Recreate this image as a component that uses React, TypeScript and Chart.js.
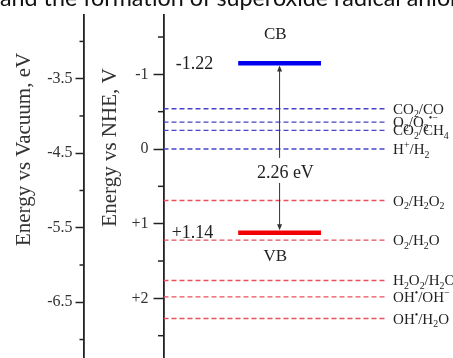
import React, { useEffect, useRef } from 'react';
import { Chart, registerables } from 'chart.js';

Chart.register(...registerables);

// ---- data ----
const coupleLabels = ['CO_2/CO', 'O_2/O_2^{•−}', 'CO_2/CH_4', 'H^{+}/H_2', 'O_2/H_2O_2', 'O_2/H_2O', 'H_2O_2/H_2O', 'OH^{•}/OH^{−}', 'OH^{•}/H_2O'];
const couplePotentials = [-0.54, -0.36, -0.25, 0, 0.69, 1.22, 1.76, 1.98, 2.27];
const coupleColors = ['#4646cc', '#4646cc', '#4646cc', '#4646cc', '#e8505c', '#e8505c', '#e8505c', '#e8505c', '#e8505c'];

const bandNames = ['CB', 'VB'];
const bandPotentials = [-1.15, 1.12];
const bandValueLabels = ['-1.22', '+1.14'];
const bandColors = ['#0000f0', '#f20000'];
const gapLabel = '2.26 eV';

const vacuumTicks = [-3.5, -4.5, -5.5, -6.5];
const vacuumTickLabels = ['-3.5', '-4.5', '-5.5', '-6.5'];
const vacuumMinorTicks = [-3, -4, -5, -6, -7];
const nheTicks = [-1, 0, 1, 2];
const nheTickLabels = ['-1', '0', '+1', '+2'];
const nheMinorTicks = [-1.5, -0.5, 0.5, 1.5, 2.5];

const vacuumTitle = 'Energy vs Vacuum, eV';
const nheTitle = 'Energy vs NHE, V';
const topText = 'and the formation of superoxide radical anions';

// ---- layout (x in 0..100 of plot area) ----
const lineStartX = 0;
const lineEndX = 76.5;
const bandStartX = 25.8;
const bandEndX = 54.4;
const arrowX = 40.1;
const labelX = 79.3;
const bandNameX = 38.6;
const bandValueRightX = 17.2;
const gapLabelX = 42.1;

const SERIF = '"Liberation Serif", "Times New Roman", serif';

function parseRich(s: string) {
  const parts: { t: string; k: 'n' | 'sub' | 'sup' }[] = [];
  let i = 0;
  let buf = '';
  while (i < s.length) {
    const c = s[i];
    if (c === '_' || c === '^') {
      if (buf) { parts.push({ t: buf, k: 'n' }); buf = ''; }
      let t = '';
      if (s[i + 1] === '{') {
        const j = s.indexOf('}', i + 2);
        t = s.slice(i + 2, j);
        i = j + 1;
      } else {
        t = s[i + 1];
        i += 2;
      }
      parts.push({ t, k: c === '_' ? 'sub' : 'sup' });
    } else {
      buf += c;
      i++;
    }
  }
  if (buf) parts.push({ t: buf, k: 'n' });
  return parts;
}

function drawRich(ctx: CanvasRenderingContext2D, s: string, x: number, baseline: number, size: number) {
  const parts = parseRich(s);
  let cx = x;
  ctx.textAlign = 'left';
  ctx.textBaseline = 'alphabetic';
  for (const p of parts) {
    const fs = p.k === 'n' ? size : size * 0.66;
    ctx.font = `${fs}px ${SERIF}`;
    const dy = p.k === 'sub' ? size * 0.25 : p.k === 'sup' ? -size * 0.38 : 0;
    ctx.fillText(p.t, cx, baseline + dy);
    cx += ctx.measureText(p.t).width;
  }
}

const decorPlugin = {
  id: 'decor',
  afterDatasetsDraw(chart: any) {
    const ctx: CanvasRenderingContext2D = chart.ctx;
    const xs = chart.scales.x;
    const ys = chart.scales.nhe;
    const vs = chart.scales.vac;
    ctx.save();
    // minor ticks
    ctx.strokeStyle = '#222';
    ctx.lineWidth = 1.5;
    for (const v of vacuumMinorTicks) {
      const y = vs.getPixelForValue(v);
      ctx.beginPath(); ctx.moveTo(vs.right - 4, y); ctx.lineTo(vs.right, y); ctx.stroke();
    }
    for (const v of nheMinorTicks) {
      const y = ys.getPixelForValue(v);
      ctx.beginPath(); ctx.moveTo(ys.right - 5.5, y); ctx.lineTo(ys.right, y); ctx.stroke();
    }
    // arrow between bands
    const ax = xs.getPixelForValue(arrowX);
    const yTop = ys.getPixelForValue(bandPotentials[0]) + 2.3;
    const yBot = ys.getPixelForValue(bandPotentials[1]) - 2.3;
    ctx.strokeStyle = '#333';
    ctx.fillStyle = '#333';
    ctx.lineWidth = 1;
    ctx.beginPath(); ctx.moveTo(ax, yTop + 4); ctx.lineTo(ax, yBot - 4); ctx.stroke();
    ctx.beginPath(); ctx.moveTo(ax, yTop); ctx.lineTo(ax - 2.5, yTop + 6); ctx.lineTo(ax + 2.5, yTop + 6); ctx.closePath(); ctx.fill();
    ctx.beginPath(); ctx.moveTo(ax, yBot); ctx.lineTo(ax - 2.5, yBot - 6); ctx.lineTo(ax + 2.5, yBot - 6); ctx.closePath(); ctx.fill();
    // gap label with white background
    const gy = (ys.getPixelForValue(bandPotentials[0]) + ys.getPixelForValue(bandPotentials[1])) / 2 + 24;
    const gx = xs.getPixelForValue(gapLabelX);
    ctx.font = `18px ${SERIF}`;
    const gw = ctx.measureText(gapLabel).width;
    ctx.fillStyle = '#fff';
    ctx.fillRect(gx - gw / 2 - 2, gy - 14, gw + 4, 25);
    ctx.fillStyle = '#222';
    ctx.textAlign = 'center';
    ctx.textBaseline = 'alphabetic';
    ctx.fillText(gapLabel, gx, gy + 6);
    // band names and values
    const cbY = ys.getPixelForValue(bandPotentials[0]);
    const vbY = ys.getPixelForValue(bandPotentials[1]);
    ctx.font = `17px ${SERIF}`;
    ctx.textAlign = 'center';
    ctx.fillText(bandNames[0], xs.getPixelForValue(bandNameX), cbY - 24);
    ctx.fillText(bandNames[1], xs.getPixelForValue(bandNameX), vbY + 28);
    ctx.font = `18px ${SERIF}`;
    ctx.textAlign = 'right';
    ctx.fillText(bandValueLabels[0], xs.getPixelForValue(bandValueRightX), cbY + 6);
    ctx.fillText(bandValueLabels[1], xs.getPixelForValue(bandValueRightX), vbY + 5);
    // couple labels
    ctx.fillStyle = '#222';
    coupleLabels.forEach((lab, i) => {
      const y = ys.getPixelForValue(couplePotentials[i]);
      drawRich(ctx, lab, xs.getPixelForValue(labelX), y + 5, 15);
    });
    // axis titles
    ctx.font = `21px ${SERIF}`;
    ctx.fillStyle = '#333';
    ctx.textAlign = 'center';
    ctx.textBaseline = 'alphabetic';
    ctx.save(); ctx.translate(29.5, 149.5); ctx.rotate(-Math.PI / 2); ctx.fillText(vacuumTitle, 0, 0); ctx.restore();
    ctx.save(); ctx.translate(116, 147.5); ctx.rotate(-Math.PI / 2); ctx.fillText(nheTitle, 0, 0); ctx.restore();
    ctx.restore();
  },
};

export default function App() {
  const ref = useRef<HTMLCanvasElement | null>(null);
  useEffect(() => {
    if (!ref.current) return;
    const datasets: any[] = [];
    bandPotentials.forEach((p, i) => {
      datasets.push({
        label: bandNames[i],
        data: [{ x: bandStartX, y: p }, { x: bandEndX, y: p }],
        borderColor: bandColors[i],
        borderWidth: 4.5,
        pointRadius: 0,
        yAxisID: 'nhe',
        xAxisID: 'x',
      });
    });
    couplePotentials.forEach((p, i) => {
      datasets.push({
        label: coupleLabels[i],
        data: [{ x: lineStartX, y: p }, { x: lineEndX, y: p }],
        borderColor: coupleColors[i],
        borderWidth: 1.4,
        borderDash: [5, 3],
        pointRadius: 0,
        yAxisID: 'nhe',
        xAxisID: 'x',
      });
    });
    const chart = new Chart(ref.current, {
      type: 'line',
      data: { datasets },
      options: {
        animation: false,
        responsive: false,
        layout: { padding: { top: 11, left: 0, right: 0, bottom: 0 }, autoPadding: false },
        plugins: { legend: { display: false }, tooltip: { enabled: false } },
        scales: {
          x: { type: 'linear', min: 0, max: 100, display: false },
          vac: {
            type: 'linear',
            position: 'left',
            weight: 2,
            min: -7.28,
            max: -2.64,
            afterBuildTicks: (s: any) => { s.ticks = vacuumTicks.map((v) => ({ value: v })); },
            afterFit: (s: any) => { s.width = 83.5; },
            ticks: {
              font: { family: SERIF, size: 16 },
              color: '#333',
              padding: 3,
              callback: (_v: any, i: number) => vacuumTickLabels[i],
            },
            grid: { drawOnChartArea: false, drawTicks: true, tickLength: 8, tickColor: '#222', tickWidth: 1.5 },
            border: { display: true, color: '#222', width: 1.8 },
          },
          nhe: {
            type: 'linear',
            position: 'left',
            weight: 1,
            reverse: true,
            min: -1.8,
            max: 2.831,
            afterBuildTicks: (s: any) => { s.ticks = nheTicks.map((v) => ({ value: v })); },
            afterFit: (s: any) => { s.width = 80; },
            ticks: {
              font: { family: SERIF, size: 16 },
              color: '#333',
              padding: 5,
              callback: (_v: any, i: number) => nheTickLabels[i],
            },
            grid: { drawOnChartArea: false, drawTicks: true, tickLength: 10, tickColor: '#222', tickWidth: 1.5 },
            border: { display: true, color: '#222', width: 1.8 },
          },
        },
      } as any,
      plugins: [decorPlugin],
    });
    return () => chart.destroy();
  }, []);

  return (
    <div style={{ position: 'absolute', left: 0, top: 0, width: 453, height: 358, overflow: 'hidden', background: '#fff' }}>
      <canvas ref={ref} width={453} height={375} style={{ position: 'absolute', left: 0, top: 0, width: 453, height: 375 }} />
      <div style={{ position: 'absolute', left: 0, top: -14, whiteSpace: 'nowrap', font: '23.3px Lato, sans-serif', lineHeight: '23px', color: '#111' }}>
        {topText}
      </div>
    </div>
  );
}
